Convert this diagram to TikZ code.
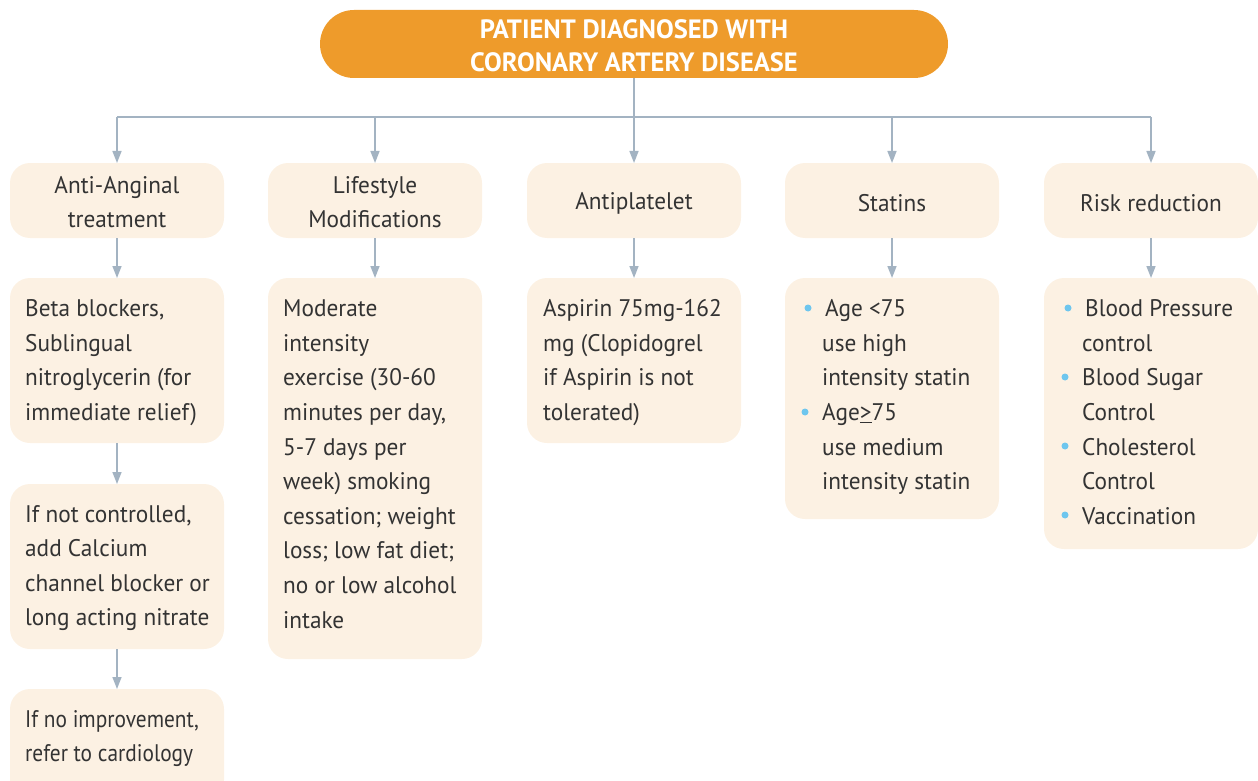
\documentclass[tikz,border=0pt]{standalone}
\usepackage{fontspec}
\setmainfont{PT Sans}[FakeStretch=0.97]
\newfontfamily\titlefont{PT Sans}
\newfontfamily\tightfont{PT Sans}[FakeStretch=0.89]
\usetikzlibrary{arrows.meta}
\definecolor{headfill}{HTML}{EE9B2B}
\definecolor{boxfill}{HTML}{FCF1E3}
\definecolor{linkcol}{HTML}{A3B3C2}
\definecolor{txt}{HTML}{333333}
\definecolor{dotcol}{HTML}{6EC6EE}
\tikzset{
  card/.style={fill=boxfill, draw=none, rounded corners=20pt},
  % multi-line nodes: base anchor sits on the last line
  body/.style={anchor=base west, inner sep=0pt, align=left, text=txt,
    font=\fontsize{24}{34.6}\selectfont},
  head/.style={anchor=center, inner sep=0pt, align=center, text=txt,
    font=\fontsize{24}{34}\selectfont},
  link/.style={draw=linkcol, line width=1.6pt,
    -{Triangle[width=9pt,length=12pt]}},
  plain/.style={draw=linkcol, line width=1.6pt},
  dot/.style={circle, fill=dotcol, inner sep=0pt, minimum size=7pt}
}
\begin{document}
\begin{tikzpicture}[x=1pt,y=-1pt]
\useasboundingbox (0,0) rectangle (1258,781);
\begin{scope}
\clip (0,0) rectangle (1258,781);

% title
\fill[headfill, rounded corners=34pt] (320,10) rectangle (948,78);
\node[inner sep=0pt, align=center, text=white,
  font=\titlefont\bfseries\fontsize{26.5}{33}\selectfont] (top) at (634,46)
  {PATIENT DIAGNOSED WITH\\CORONARY ARTERY DISEASE};
\coordinate (topb) at (634,78);

% first row cards
\fill[card] (10,163) rectangle (224,238);
\fill[card] (268,163) rectangle (482,238);
\fill[card] (527,163) rectangle (741,238);
\fill[card] (785,163) rectangle (999,238);
\fill[card] (1044,163) rectangle (1258,238);
\coordinate (a1t) at (117,163); \coordinate (a1b) at (117,238);
\coordinate (a2t) at (375,163); \coordinate (a2b) at (375,238);
\coordinate (a3t) at (634,163); \coordinate (a3b) at (634,238);
\coordinate (a4t) at (892,163); \coordinate (a4b) at (892,238);
\coordinate (a5t) at (1151,163); \coordinate (a5b) at (1151,238);
\node[head] (h1) at (117,202) {Anti-Anginal\\treatment};
\node[head] (h2) at (375,202) {Lifestyle\\Modifications};
\node[head] (h3) at (634,203) {Antiplatelet};
\node[head] (h4) at (892,203) {Statins};
\node[head] (h5) at (1151,203) {Risk reduction};

% second row cards
\fill[card] (10,278) rectangle (224,443);
\fill[card] (268,278) rectangle (482,659);
\fill[card] (527,278) rectangle (741,443);
\fill[card] (785,278) rectangle (999,519);
\fill[card] (1044,278) rectangle (1258,549);
\coordinate (b1t) at (117,278); \coordinate (b1b) at (117,443);
\coordinate (b2t) at (375,278);
\coordinate (b3t) at (634,278);
\coordinate (b4t) at (892,278);
\coordinate (b5t) at (1151,278);

% further cards of the first column
\fill[card] (10,484) rectangle (224,649);
\fill[card] (10,689) rectangle (224,800);
\coordinate (c1t) at (117,484); \coordinate (c1b) at (117,649);
\coordinate (d1t) at (117,689);

% texts (positions give the baseline of the last line)
\node[body] (t1) at (25,420.5) {Beta blockers,\\Sublingual\\nitroglycerin (for\\immediate relief)};
\node[body] (t2) at (283,628.1) {Moderate\\intensity\\exercise (30-60\\minutes per day,\\5-7 days per\\week) smoking\\cessation; weight\\loss; low fat diet;\\no or low alcohol\\intake};
\node[body] (t3) at (543,420.5) {Aspirin 75mg-162\\mg (Clopidogrel\\if Aspirin is not\\tolerated)};
\node[body] (t4) at (822,489.7) {\hspace{3pt}Age <75\\use high\\intensity statin\\Age\underline{>}75\\use medium\\intensity statin};
\node[body] (t5) at (1082,524.3) {\hspace{3pt}Blood Pressure\\control\\Blood Sugar\\Control\\Cholesterol\\Control\\Vaccination};
\node[body] (t6) at (25,625.8) {If not controlled,\\add Calcium\\channel blocker or\\long acting nitrate};
\node[body, font=\tightfont\fontsize{24}{34.6}\selectfont] (t7) at (25,761.6) {If no improvement,\\refer to cardiology};

% bullets
\node[dot] (p1) at (808,308) {};
\node[dot] (p2) at (805,412) {};
\node[dot] (q1) at (1068,308) {};
\node[dot] (q2) at (1065,377) {};
\node[dot] (q3) at (1065,446) {};
\node[dot] (q4) at (1065,515) {};

% connectors
\coordinate (busl) at (117,117);
\coordinate (busr) at (1151,117);
\coordinate (busm) at (634,117);
\coordinate (bus2) at (375,117);
\coordinate (bus4) at (892,117);
\path[plain] (topb) -- (busm);
\path[plain] (busl) -- (busr);
\path[link] (busl) -- (a1t);
\path[link] (bus2) -- (a2t);
\path[link] (busm) -- (a3t);
\path[link] (bus4) -- (a4t);
\path[link] (busr) -- (a5t);
\path[link] (a1b) -- (b1t);
\path[link] (a2b) -- (b2t);
\path[link] (a3b) -- (b3t);
\path[link] (a4b) -- (b4t);
\path[link] (a5b) -- (b5t);
\path[link] (b1b) -- (c1t);
\path[link] (c1b) -- (d1t);
\end{scope}
\end{tikzpicture}
\end{document}
